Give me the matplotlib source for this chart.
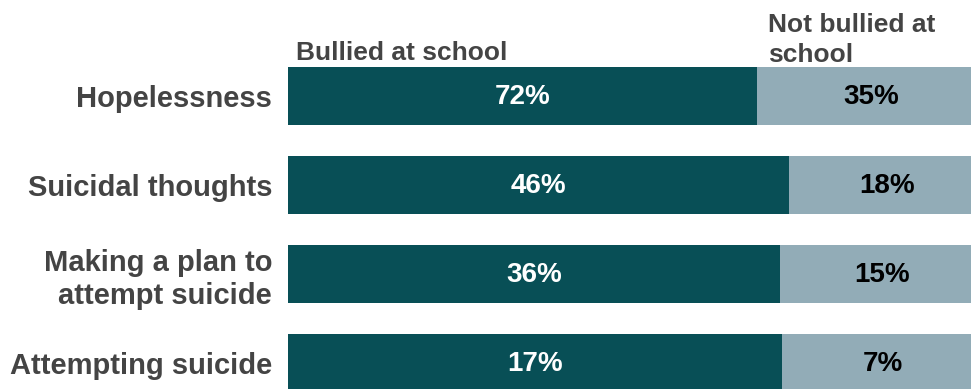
import matplotlib
matplotlib.use("Agg")
import matplotlib.pyplot as plt

# percentages reporting each outcome, by bullying status
categories = ["Hopelessness", "Suicidal thoughts", "Making a plan to\nattempt suicide", "Attempting suicide"]
bullied = [72, 46, 36, 17]
not_bullied = [35, 18, 15, 7]
series_names = ["Bullied at school", "Not bullied at\nschool"]

dark = "#084f56"
light = "#92acb7"
grey = "#444444"

plt.rcParams['font.family'] = ['Liberation Sans', 'DejaVu Sans']

fig = plt.figure(figsize=(9.71, 3.89), dpi=100)
# axes runs a little past the right and bottom edges of the figure
ax = fig.add_axes([288 / 971, -3 / 389, 697 / 971, 325 / 389])

# each bar is split by share of the combined total
share_b = [b / (b + n) for b, n in zip(bullied, not_bullied)]
share_n = [n / (b + n) for b, n in zip(bullied, not_bullied)]
ypos = list(range(len(categories)))
h = 0.652

ax.barh(ypos, share_b, height=h, color=dark, edgecolor="none")
ax.barh(ypos, share_n, left=share_b, height=h, color=light, edgecolor="none")

for y, sb, sn, b, n in zip(ypos, share_b, share_n, bullied, not_bullied):
    ax.text(sb / 2, y + 0.01, f"{b}%", ha="center", va="center", color="white",
            fontsize=20, fontweight="bold")
    ax.text(sb + sn / 2, y + 0.01, f"{n}%", ha="center", va="center", color="black",
            fontsize=20, fontweight="bold")

# series headers sit above the first bar
top = -h / 2
ax.text(0.011, top - 0.08, series_names[0], ha="left", va="baseline",
        color=grey, fontsize=19, fontweight="bold", clip_on=False)
ax.text(share_b[0] + 0.016, top - 0.055, series_names[1], ha="left", va="baseline",
        color=grey, fontsize=19, fontweight="bold", linespacing=1.3, clip_on=False)

ax.set_xlim(0, 1)
ax.set_ylim(len(categories) - 1 + h / 2, -h / 2)
ax.set_yticks(ypos)
ax.set_yticklabels(categories, fontsize=21, fontweight="bold", color=grey,
                   linespacing=1.25)
ax.tick_params(axis="y", length=0, pad=11.5)
ax.set_xticks([])
for s in ax.spines.values():
    s.set_visible(False)

fig.savefig("out.png", dpi=100)
